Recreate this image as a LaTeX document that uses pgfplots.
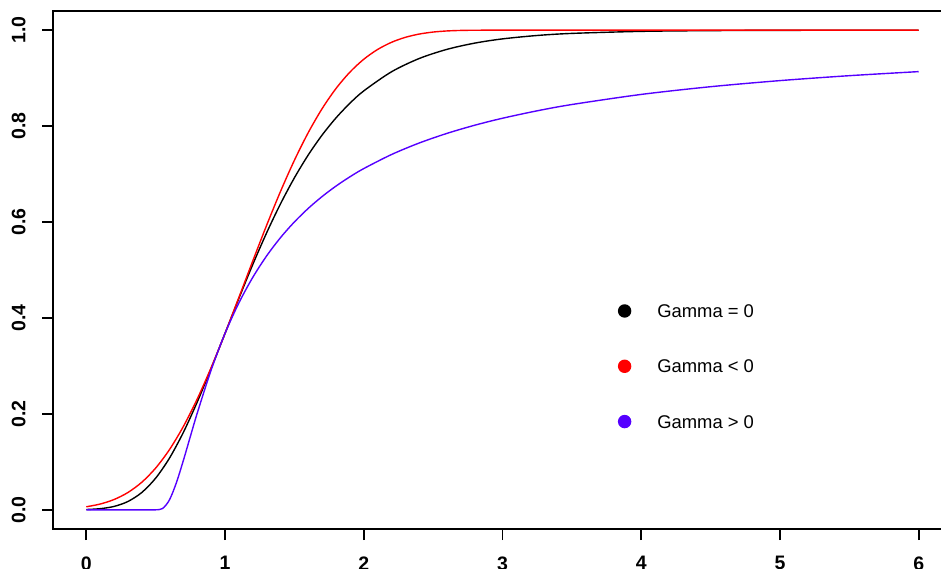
\documentclass[border=0pt]{standalone}
\usepackage{fontspec}
\setmainfont{Liberation Sans}
\usepackage{pgfplots}
\pgfplotsset{compat=1.18}

\definecolor{gevblue}{RGB}{85,0,255}

\begin{document}
\begin{tikzpicture}
\useasboundingbox (-26.5pt,-19.5pt) rectangle (444pt,264.5pt);
\begin{axis}[
  at={(0,0)}, anchor=south west,
  scale only axis, width=449.5pt, height=259pt,
  xmin=-0.24, xmax=6.24, ymin=-0.04, ymax=1.04,
  axis line style={line width=0.9pt},
  xtick={0,1,2,3,4,5,6},
  ytick={0,0.2,0.4,0.6,0.8,1},
  tick align=outside, major tick length=5.5pt,
  xtick pos=bottom, ytick pos=left,
  tick style={line width=0.9pt, black},
  /pgf/number format/assume math mode=true,
  tick label style={font=\fontsize{9.75}{11}\selectfont\bfseries},
  yticklabel style={xshift=-8pt, rotate=90, anchor=south, inner sep=0pt,
    /pgf/number format/.cd, fixed, fixed zerofill, precision=1},
  xticklabel style={anchor=north, inner sep=0pt, yshift=-8pt},
  legend style={draw=none, fill=none, at={(axis cs:3.829,0.4294)}, anchor=north west,
    font=\fontsize{9.2}{10}\selectfont, row sep=19.5pt, column sep=13pt,
    inner sep=0pt, nodes={inner sep=0pt}},
  legend cell align=left,
  legend image code/.code={\fill[#1] (0pt,0.5ex-1.8pt) circle (3pt);},
  every axis plot/.append style={line width=0.7pt},
]
% Gumbel (shape 0), location 1, scale 0.5
\addplot[black, smooth] coordinates {
(0,0.00062)(0.1,0.00236)(0.2,0.00706)(0.3,0.01733)(0.4,0.03615)(0.5,0.06599)
(0.6,0.10801)(0.7,0.16168)(0.8,0.22496)(0.9,0.29482)(1.0,0.36788)(1.1,0.44099)
(1.2,0.51154)(1.3,0.57764)(1.4,0.63806)(1.5,0.69220)(1.6,0.73994)(1.7,0.78145)
(1.8,0.81718)(1.9,0.84764)(2.0,0.87342)(2.2,0.91328)(2.4,0.94100)(2.6,0.96006)
(2.8,0.97305)(3.0,0.98185)(3.25,0.98895)(3.5,0.99328)(4.0,0.99752)(4.5,0.99909)
(5.0,0.99966)(5.5,0.99988)(6.0,0.99995)};
\addlegendentry{Gamma = 0}
% shape -0.25: bounded above at x = 3
\addplot[red, smooth] coordinates {
(0,0.00633)(0.1,0.01203)(0.2,0.02146)(0.3,0.03610)(0.4,0.05749)(0.5,0.08704)
(0.6,0.12573)(0.7,0.17395)(0.8,0.23129)(0.9,0.29656)(1.0,0.36788)(1.1,0.44286)
(1.2,0.51887)(1.3,0.59333)(1.4,0.66392)(1.5,0.72876)(1.6,0.78655)(1.7,0.83652)
(1.8,0.87845)(1.9,0.91256)(2.0,0.93941)(2.1,0.95982)(2.2,0.97473)(2.3,0.98511)
(2.4,0.99193)(2.5,0.99610)(2.6,0.99840)(2.7,0.99949)(2.8,0.99990)(2.9,0.99999)
(3,1)(4,1)(5,1)(6,1)};
\addlegendentry{Gamma < 0}
% positive shape: bounded below, heavy upper tail
\addplot[gevblue, smooth] coordinates {
(0,0)(0.45,0)(0.5,0.00001)(0.55,0.00277)(0.6,0.02102)(0.65,0.05707)(0.7,0.10327)
(0.75,0.15285)(0.8,0.20188)(0.9,0.29169)(1.0,0.36788)(1.1,0.43149)(1.2,0.48467)
(1.3,0.52946)(1.4,0.56755)(1.5,0.60023)(1.6,0.62854)(1.7,0.65325)(1.8,0.67500)
(1.9,0.69428)(2.0,0.71147)(2.2,0.74077)(2.4,0.76481)(2.6,0.78487)(2.8,0.80186)
(3.0,0.81640)(3.25,0.83190)(3.5,0.84502)(4.0,0.86607)(4.5,0.88216)(5.0,0.89487)
(5.5,0.90514)(6.0,0.91362)};
\addlegendentry{Gamma > 0}
\end{axis}
\end{tikzpicture}
\end{document}
